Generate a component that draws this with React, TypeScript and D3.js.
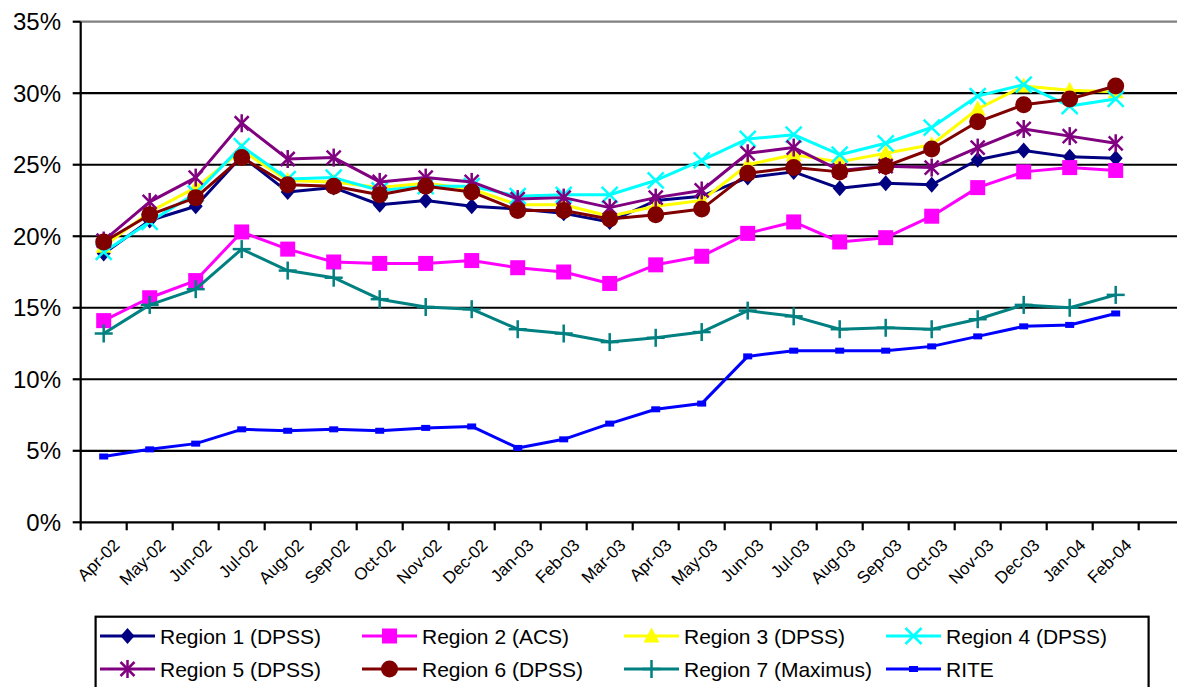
import React from "react";
import * as d3 from "d3";

const months = ["Apr-02","May-02","Jun-02","Jul-02","Aug-02","Sep-02","Oct-02","Nov-02","Dec-02","Jan-03","Feb-03","Mar-03","Apr-03","May-03","Jun-03","Jul-03","Aug-03","Sep-03","Oct-03","Nov-03","Dec-03","Jan-04","Feb-04"];

const region1 = [18.8, 21.1, 22.1, 25.6, 23.1, 23.4, 22.2, 22.5, 22.1, 21.9, 21.6, 21.0, 22.5, 22.8, 24.1, 24.5, 23.35, 23.7, 23.6, 25.35, 26.0, 25.55, 25.45];
const region2 = [14.1, 15.7, 16.9, 20.3, 19.1, 18.2, 18.1, 18.1, 18.3, 17.8, 17.5, 16.7, 18.0, 18.6, 20.2, 21.0, 19.6, 19.9, 21.4, 23.4, 24.5, 24.8, 24.6];
const region3 = [19.3, 21.7, 23.4, 26.0, 23.9, 23.8, 23.4, 23.7, 23.3, 22.2, 22.2, 21.4, 22.1, 22.5, 25.0, 25.7, 25.2, 25.8, 26.4, 28.9, 30.5, 30.2, 30.1];
const region4 = [18.9, 21.0, 23.0, 26.3, 24.0, 24.1, 23.2, 23.5, 23.5, 22.8, 22.9, 22.9, 23.9, 25.3, 26.8, 27.1, 25.7, 26.5, 27.6, 29.8, 30.6, 29.1, 29.6];
const region5 = [19.7, 22.4, 24.1, 27.9, 25.4, 25.5, 23.8, 24.1, 23.8, 22.6, 22.7, 22.0, 22.7, 23.2, 25.8, 26.2, 24.6, 24.9, 24.8, 26.2, 27.5, 27.0, 26.5];
const region6 = [19.6, 21.5, 22.7, 25.5, 23.6, 23.5, 22.9, 23.5, 23.1, 21.8, 21.8, 21.2, 21.5, 21.9, 24.4, 24.8, 24.5, 24.9, 26.1, 28.0, 29.2, 29.6, 30.5];
const region7 = [13.2, 15.2, 16.3, 19.1, 17.6, 17.1, 15.6, 15.05, 14.9, 13.5, 13.2, 12.6, 12.9, 13.3, 14.8, 14.4, 13.5, 13.6, 13.5, 14.2, 15.2, 15.0, 15.9];
const rite = [4.6, 5.1, 5.5, 6.5, 6.4, 6.5, 6.4, 6.6, 6.7, 5.2, 5.8, 6.9, 7.9, 8.3, 11.6, 12.0, 12.0, 12.0, 12.3, 13.0, 13.7, 13.8, 14.6];

const seriesNames = ["Region 1 (DPSS)", "Region 2 (ACS)", "Region 3 (DPSS)", "Region 4 (DPSS)", "Region 5 (DPSS)", "Region 6 (DPSS)", "Region 7 (Maximus)", "RITE"];
const seriesValues = [region1, region2, region3, region4, region5, region6, region7, rite];
const seriesColors = ["#000080", "#FF00FF", "#FFFF00", "#00FFFF", "#800080", "#800000", "#008080", "#0000FF"];
const seriesMarkers = ["diamond", "square", "triangle", "x", "star", "circle", "plus", "dash"];

const yTicks = [0, 5, 10, 15, 20, 25, 30, 35];

const W = 1177, H = 687;
const X0 = 80.7, STEP = 46;
const Y0 = 522.3, YTOP = 21.7;
const FONT = "'Liberation Sans', Arial, sans-serif";

function Marker({ type, cx, cy, color }: { type: string; cx: number; cy: number; color: string }) {
  switch (type) {
    case "diamond":
      return <path d={`M${cx},${cy - 8}L${cx + 7},${cy}L${cx},${cy + 8}L${cx - 7},${cy}Z`} fill={color} />;
    case "square":
      return <rect x={cx - 7.5} y={cy - 7.5} width={15} height={15} fill={color} />;
    case "triangle":
      return <path d={`M${cx},${cy - 8.5}L${cx + 8},${cy + 6.5}L${cx - 8},${cy + 6.5}Z`} fill={color} />;
    case "x":
      return (
        <g stroke={color} strokeWidth={2.5}>
          <line x1={cx - 8} y1={cy - 8} x2={cx + 8} y2={cy + 8} />
          <line x1={cx - 8} y1={cy + 8} x2={cx + 8} y2={cy - 8} />
        </g>
      );
    case "star":
      return (
        <g stroke={color} strokeWidth={2.5}>
          <line x1={cx - 7} y1={cy - 7} x2={cx + 7} y2={cy + 7} />
          <line x1={cx - 7} y1={cy + 7} x2={cx + 7} y2={cy - 7} />
          <line x1={cx} y1={cy - 9} x2={cx} y2={cy + 9} />
        </g>
      );
    case "circle":
      return <circle cx={cx} cy={cy} r={8.5} fill={color} />;
    case "plus":
      return (
        <g stroke={color} strokeWidth={2.5}>
          <line x1={cx - 9} y1={cy} x2={cx + 9} y2={cy} />
          <line x1={cx} y1={cy - 9} x2={cx} y2={cy + 9} />
        </g>
      );
    case "dash":
      return <rect x={cx - 4.5} y={cy - 3} width={9} height={6} fill={color} />;
    default:
      return null;
  }
}

export default function App() {
  const x = d3.scaleBand<string>().domain(months).range([X0, X0 + STEP * months.length]).padding(0);
  const y = d3.scaleLinear().domain([0, 35]).range([Y0, YTOP]);
  const cx = (m: string) => (x(m) as number) + x.bandwidth() / 2;
  const line = d3.line<number>().x((_, i) => cx(months[i])).y((v) => y(v));
  const tickXs = months.map((m) => x(m) as number).concat([x.range()[1]]);
  const fmt = (v: number) => `${v}%`;

  const legendCols = [100, 362, 624, 886];
  const legendRows = [636, 669];

  return (
    <svg width={W} height={H} style={{ position: "absolute", left: 0, top: 0, display: "block", background: "#fff" }} fontFamily={FONT}>
      {yTicks.filter((t) => t > 0).map((t) => (
        <line key={t} x1={X0} x2={W + 10} y1={y(t)} y2={y(t)} stroke={t === 35 ? "#808080" : "#000"} strokeWidth={2.2} />
      ))}
      <line x1={X0} x2={X0} y1={YTOP} y2={Y0} stroke="#000" strokeWidth={2.2} />
      {yTicks.map((t) => (
        <g key={t}>
          <line x1={X0 - 8} x2={X0} y1={y(t)} y2={y(t)} stroke="#000" strokeWidth={2.2} />
          <text x={61} y={y(t)} textAnchor="end" dominantBaseline="central" fontSize={24} fill="#000">{fmt(t)}</text>
        </g>
      ))}
      <line x1={X0} x2={W + 10} y1={Y0} y2={Y0} stroke="#000" strokeWidth={2.2} />
      {tickXs.map((tx, i) => (
        <line key={i} x1={tx} x2={tx} y1={Y0} y2={Y0 + 8} stroke="#000" strokeWidth={2.2} />
      ))}
      {months.map((m) => (
        <text key={m} transform={`translate(${cx(m) + 13},${Y0 + 20}) rotate(-45)`} textAnchor="end" dominantBaseline="central" fontSize={17} fill="#000">{m}</text>
      ))}
      {seriesValues.map((vals, si) => (
        <g key={si}>
          <path d={line(vals) as string} fill="none" stroke={seriesColors[si]} strokeWidth={3} strokeLinejoin="round" />
          {vals.map((v, i) => (
            <Marker key={i} type={seriesMarkers[si]} cx={cx(months[i])} cy={y(v)} color={seriesColors[si]} />
          ))}
        </g>
      ))}
      <rect x={95.6} y={616.7} width={1053} height={100} fill="#fff" stroke="#000" strokeWidth={2.2} />
      {seriesNames.map((name, si) => {
        const col = legendCols[si % 4];
        const ry = legendRows[Math.floor(si / 4)];
        return (
          <g key={name}>
            <line x1={col} x2={col + 55} y1={ry} y2={ry} stroke={seriesColors[si]} strokeWidth={3} />
            <Marker type={seriesMarkers[si]} cx={col + 27.5} cy={ry} color={seriesColors[si]} />
            <text x={col + 60} y={ry} dominantBaseline="central" fontSize={21} fill="#000">{name}</text>
          </g>
        );
      })}
    </svg>
  );
}
